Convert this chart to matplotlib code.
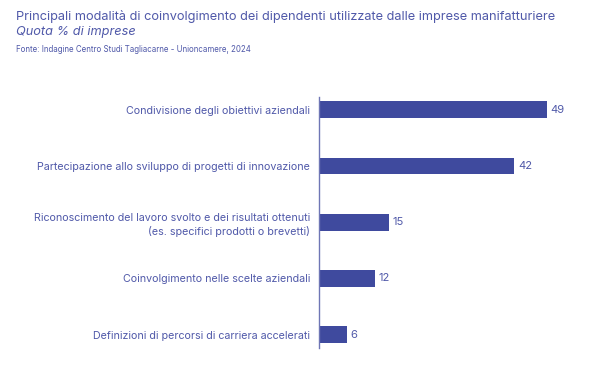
import matplotlib
matplotlib.use("Agg")
import matplotlib.pyplot as plt

categories = [
    "Condivisione degli obiettivi aziendali",
    "Partecipazione allo sviluppo di progetti di innovazione",
    "Riconoscimento del lavoro svolto e dei risultati ottenuti\n(es. specifici prodotti o brevetti)",
    "Coinvolgimento nelle scelte aziendali",
    "Definizioni di percorsi di carriera accelerati",
]
values = [49, 42, 15, 12, 6]

title = "Principali modalità di coinvolgimento dei dipendenti utilizzate dalle imprese manifatturiere"
subtitle = "Quota % di imprese"
source = "Fonte: Indagine Centro Studi Tagliacarne - Unioncamere, 2024"

plt.rcParams['font.family'] = ['Inter', 'DejaVu Sans']
bar_color = "#3F4A9E"
text_color = "#5059A9"

fig = plt.figure(figsize=(6, 3.79), dpi=100)
ax = fig.add_axes([319/600, 1 - 348/379, (547 - 319)/600 * 60/49, (348 - 97)/379])

y = list(range(len(categories)))
ax.barh(y, values, height=0.3, color=bar_color)
ax.set_ylim(4.24, -0.23)
ax.set_xlim(0, 60)

for yi, v in zip(y, values):
    ax.annotate(str(v), (v, yi), xytext=(2.5, 0), textcoords='offset points',
                va='center', ha='left', fontsize=8, color=text_color)

ax.set_yticks(y)
ax.set_yticklabels(categories, fontsize=7.7, color=text_color, linespacing=1.35)
ax.tick_params(axis='y', length=0, pad=6.5)
ax.set_xticks([])
for s in ['top', 'right', 'bottom']:
    ax.spines[s].set_visible(False)
ax.spines['left'].set_color("#6F76B5")
ax.spines['left'].set_linewidth(1.0)

fig.text(16/600, 1 - 16.5/379, title, fontsize=9.2, color=text_color, va='center', ha='left')
fig.text(16/600, 1 - 32.5/379, subtitle, fontsize=9.2, color=text_color, va='center', ha='left', style='italic')
fig.text(16/600, 1 - 50/379, source, fontsize=5.7, color=text_color, va='center', ha='left')

fig.savefig("out.png", dpi=100)
